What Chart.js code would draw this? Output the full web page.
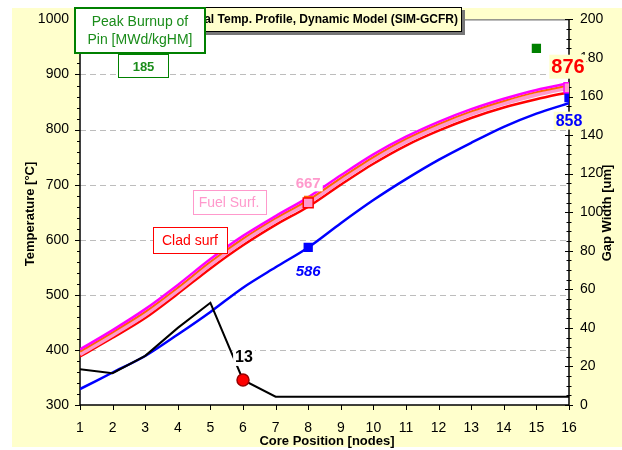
<!DOCTYPE html>
<html>
<head>
<meta charset="utf-8">
<script src="https://cdn.jsdelivr.net/npm/chart.js@4/dist/chart.umd.min.js"></script>
<style>
  html, body { margin: 0; padding: 0; background: #fff; }
</style>
</head>
<body>
<canvas id="tempChart" width="622" height="450"></canvas>
<script>
const nodes = [1, 2, 3, 4, 5, 6, 7, 8, 9, 10, 11, 12, 13, 14, 15, 16];

// temperatures [°C] along the core
const coolantTemp  = [329, 359, 389, 428, 469, 513, 550, 586, 630, 672, 710, 745, 776, 805, 829, 848];
const cladTemp     = [388, 422, 458, 502, 548, 590, 627, 660, 700, 738, 771, 798, 821, 840, 855, 868];
const fuelSurfTemp = [392, 427, 464, 508, 555, 597, 634, 667, 707, 745, 778, 805, 828, 847, 863, 876];
const fuelMidTemp  = [397, 432, 469, 513, 560, 602, 639, 672, 712, 750, 783, 810, 833, 852, 868, 880];
const fuelMaxTemp  = [401, 436, 474, 518, 565, 607, 643, 677, 717, 755, 787, 814, 837, 856, 872, 884];

// pellet-clad gap [um]
const gapWidth = [18.5, 16.5, 25.5, 40, 53, 13, 4.3, 4.3, 4.3, 4.3, 4.3, 4.3, 4.3, 4.3, 4.3, 4.3];

// highlighted points
const markNodes    = [8, 16];
const fuelSurfMark = [667, 876];
const coolantMark  = [586, 858];
const fuelMidMarkNode = 8;
const gapMarkNode  = 6;
const gapMark      = 13;
const burnupNode   = 15;
const peakBurnup   = 185;

const tempTicks = [300, 400, 500, 600, 700, 800, 900, 1000];
const gapTicks  = [0, 20, 40, 60, 80, 100, 120, 140, 160, 180, 200];

const FONT = '"Liberation Sans", Arial, sans-serif';
const PAPER = '#FFFFCC';

const pts = (arr) => nodes.map((n, i) => ({ x: n, y: arr[i] }));

function boxedText(ctx, text, cx, cy, font, color, bg, border, padX, padY) {
  ctx.save();
  ctx.font = font;
  ctx.textAlign = 'center';
  ctx.textBaseline = 'middle';
  const w = ctx.measureText(text).width;
  const m = parseInt(font.match(/(\d+)px/)[1], 10);
  const bw = w + 2 * padX, bh = m + 2 * padY;
  if (bg) {
    ctx.fillStyle = bg;
    ctx.fillRect(cx - bw / 2, cy - bh / 2, bw, bh);
  }
  if (border) {
    ctx.strokeStyle = border;
    ctx.lineWidth = 1;
    ctx.strokeRect(Math.round(cx - bw / 2) + 0.5, Math.round(cy - bh / 2) + 0.5, Math.round(bw), Math.round(bh));
  }
  ctx.fillStyle = color;
  ctx.fillText(text, cx, cy + 1);
  ctx.restore();
}

const frame = {
  id: 'frame',
  beforeDraw(chart) {
    const { ctx, chartArea: a } = chart;
    ctx.save();
    ctx.fillStyle = '#fff';
    ctx.fillRect(0, 0, chart.width, chart.height);
    ctx.fillStyle = PAPER;
    ctx.fillRect(12, 8, chart.width - 12, 439);
    ctx.fillStyle = '#fff';
    ctx.fillRect(a.left, a.top, a.right - a.left, a.bottom - a.top);
    ctx.restore();
  },
  beforeDatasetsDraw(chart) {
    const { ctx, chartArea: a, scales } = chart;
    const y = scales.y, y1 = scales.y1, x = scales.x;
    ctx.save();
    // dashed grid
    ctx.strokeStyle = '#BDBDBD';
    ctx.lineWidth = 1;
    ctx.setLineDash([6, 4]);
    tempTicks.slice(1, -1).forEach(v => {
      const py = Math.round(y.getPixelForValue(v)) + 0.5;
      ctx.beginPath(); ctx.moveTo(a.left, py); ctx.lineTo(a.right, py); ctx.stroke();
    });
    ctx.setLineDash([]);
    // top border
    ctx.strokeStyle = '#555';
    ctx.beginPath(); ctx.moveTo(a.left, a.top + 0.5); ctx.lineTo(a.right, a.top + 0.5); ctx.stroke();
    // axis lines
    ctx.strokeStyle = '#000';
    ctx.lineWidth = 1.5;
    ctx.beginPath();
    ctx.moveTo(a.left, a.top); ctx.lineTo(a.left, a.bottom);
    ctx.moveTo(a.right, a.top); ctx.lineTo(a.right, a.bottom);
    ctx.moveTo(a.left, a.bottom); ctx.lineTo(a.right, a.bottom);
    ctx.stroke();
    ctx.lineWidth = 1;
    ctx.beginPath();
    // left ticks: major every 100, minor every 20
    for (let v = 300; v <= 1000; v += 20) {
      const py = Math.round(y.getPixelForValue(v)) + 0.5;
      const len = v % 100 === 0 ? 5 : 3;
      ctx.moveTo(a.left - len, py); ctx.lineTo(a.left, py);
    }
    // right ticks: major every 20, minor every 5
    for (let v = 0; v <= 200; v += 5) {
      const py = Math.round(y1.getPixelForValue(v)) + 0.5;
      const len = v % 20 === 0 ? 4 : 2.5;
      ctx.moveTo(a.right - len, py); ctx.lineTo(a.right + len, py);
    }
    nodes.forEach(n => {
      const px = Math.round(x.getPixelForValue(n)) + 0.5;
      ctx.moveTo(px, a.bottom); ctx.lineTo(px, a.bottom + 5);
    });
    ctx.stroke();
    ctx.restore();
  },
  afterDraw(chart) {
    const { ctx, scales } = chart;
    const x = scales.x, y = scales.y, y1 = scales.y1;

    // value labels
    const bold = (s) => 'bold ' + s + 'px ' + FONT;
    const fx8 = x.getPixelForValue(markNodes[0]);
    const fx16 = x.getPixelForValue(markNodes[1]);
    boxedText(ctx, String(fuelSurfMark[0]), fx8, y.getPixelForValue(fuelSurfMark[0]) - 20, bold(15), '#FF99CC', '#fff', null, 2, 1);
    boxedText(ctx, String(coolantMark[0]), fx8, y.getPixelForValue(coolantMark[0]) + 23, 'italic ' + bold(15), '#0000FF', null, null, 2, 1);
    boxedText(ctx, String(fuelSurfMark[1]), fx16 - 1, y.getPixelForValue(fuelSurfMark[1]) - 21, bold(20), '#FF0000', PAPER, null, 2, 2);
    boxedText(ctx, String(coolantMark[1]), fx16, y.getPixelForValue(coolantMark[1]) + 23, bold(16), '#0000FF', PAPER, null, 2, 1);
    boxedText(ctx, String(gapMark), x.getPixelForValue(gapMarkNode) + 1, y1.getPixelForValue(gapMark) - 23, bold(16), '#000', '#fff', null, 2, 1);

    // curve captions
    boxedText(ctx, 'Fuel Surf.', 229, 202, '14px ' + FONT, '#FF99CC', '#fff', '#FF99CC', 6, 5);
    boxedText(ctx, 'Clad surf', 190, 240, '14px ' + FONT, '#FF0000', '#fff', '#FF0000', 9, 6);

    ctx.save();
    // title box
    ctx.fillStyle = '#777';
    ctx.fillRect(173, 10, 292, 25);
    ctx.fillStyle = PAPER;
    ctx.fillRect(170, 7, 292, 25);
    ctx.strokeStyle = '#000';
    ctx.lineWidth = 1;
    ctx.strokeRect(170.5, 7.5, 291, 24);
    ctx.fillStyle = '#000';
    ctx.font = 'bold 12px ' + FONT;
    ctx.textAlign = 'right';
    ctx.textBaseline = 'middle';
    ctx.fillText('Axial Temp. Profile, Dynamic Model (SIM-GCFR)', 458, 20);

    // burnup caption
    ctx.fillStyle = '#fff';
    ctx.fillRect(74, 7, 132, 47);
    ctx.strokeStyle = '#008000';
    ctx.lineWidth = 2;
    ctx.strokeRect(75, 8, 130, 45);
    ctx.fillStyle = '#1A8C1A';
    ctx.font = '14px ' + FONT;
    ctx.textAlign = 'center';
    ctx.fillText('Peak Burnup of', 140, 22);
    ctx.fillText('Pin [MWd/kgHM]', 140, 40);
    ctx.fillStyle = '#fff';
    ctx.fillRect(118, 54, 51, 24);
    ctx.lineWidth = 1;
    ctx.strokeRect(118.5, 54.5, 50, 23);
    ctx.fillStyle = '#1A8C1A';
    ctx.font = 'bold 13px ' + FONT;
    ctx.fillText(String(peakBurnup), 143.5, 67);

    // axis titles
    ctx.fillStyle = '#000';
    ctx.font = 'bold 13px ' + FONT;
    ctx.fillText('Core Position [nodes]', 327, 441);
    ctx.translate(30, 214);
    ctx.rotate(-Math.PI / 2);
    ctx.fillText('Temperature [°C]', 0, 0);
    ctx.restore();
    ctx.save();
    ctx.fillStyle = '#000';
    ctx.font = 'bold 13px ' + FONT;
    ctx.textAlign = 'center';
    ctx.textBaseline = 'middle';
    ctx.translate(607, 213);
    ctx.rotate(-Math.PI / 2);
    ctx.fillText('Gap Width [um]', 0, 0);
    ctx.restore();
  }
};

const line = (data, color, width, axis, tension) => ({
  data: pts(data), yAxisID: axis, borderColor: color, borderWidth: width,
  pointRadius: 0, tension: tension, fill: false
});

const mark = (xs, ys, axis, fill, border, style, r) => ({
  data: xs.map((n, i) => ({ x: n, y: ys[i] })), yAxisID: axis,
  showLine: false, pointStyle: style, pointRadius: r,
  pointBackgroundColor: fill, pointBorderColor: border, pointBorderWidth: 1.5
});

const plain = (v) => String(v);

new Chart(document.getElementById('tempChart'), {
  type: 'line',
  data: {
    datasets: [
      mark([gapMarkNode], [gapMark], 'y1', '#FF0000', '#990000', 'circle', 6),
      mark([burnupNode], [peakBurnup], 'y1', '#008000', '#008000', 'rect', 5.5),
      mark([markNodes[0]], [fuelSurfMark[0]], 'y', '#FF99CC', '#FF0000', 'rect', 7),
      mark([markNodes[1]], [fuelSurfMark[1]], 'y', '#FF99CC', '#FF00FF', 'rect', 7),
      mark([fuelMidMarkNode], [fuelMidTemp[fuelMidMarkNode - 1]], 'y', '#FF6600', '#FF6600', 'rect', 5),
      mark(markNodes, coolantMark, 'y', '#0000FF', '#0000FF', 'rect', 5.5),
      line(gapWidth, '#000000', 2, 'y1', 0),
      line(fuelMaxTemp, '#FF00FF', 2.5, 'y', 0.3),
      line(fuelMidTemp, '#FF6600', 2, 'y', 0.3),
      line(fuelSurfTemp, '#FF99CC', 4, 'y', 0.3),
      line(cladTemp, '#FF0000', 2.5, 'y', 0.3),
      line(coolantTemp, '#0000FF', 2.5, 'y', 0.3)
    ]
  },
  options: {
    responsive: false,
    animation: false,
    layout: { padding: { top: 19, left: 0, right: 0, bottom: 0 } },
    plugins: { legend: { display: false }, tooltip: { enabled: false } },
    scales: {
      x: {
        type: 'linear', min: 1, max: 16,
        grid: { display: false, drawTicks: false }, border: { display: false },
        ticks: { stepSize: 1, color: '#000', font: { family: FONT, size: 14 }, padding: 15, callback: plain },
        afterFit: (s) => { s.height = 45; }
      },
      y: {
        position: 'left', min: tempTicks[0], max: tempTicks[tempTicks.length - 1],
        grid: { display: false, drawTicks: false }, border: { display: false },
        ticks: { stepSize: 100, color: '#000', font: { family: FONT, size: 14 }, padding: 11, callback: plain },
        afterFit: (s) => { s.width = 80; }
      },
      y1: {
        position: 'right', min: gapTicks[0], max: gapTicks[gapTicks.length - 1],
        grid: { display: false, drawTicks: false }, border: { display: false },
        ticks: { stepSize: 20, color: '#000', font: { family: FONT, size: 14 }, padding: 11, callback: plain },
        afterFit: (s) => { s.width = 53; }
      }
    }
  },
  plugins: [frame]
});
</script>
</body>
</html>
